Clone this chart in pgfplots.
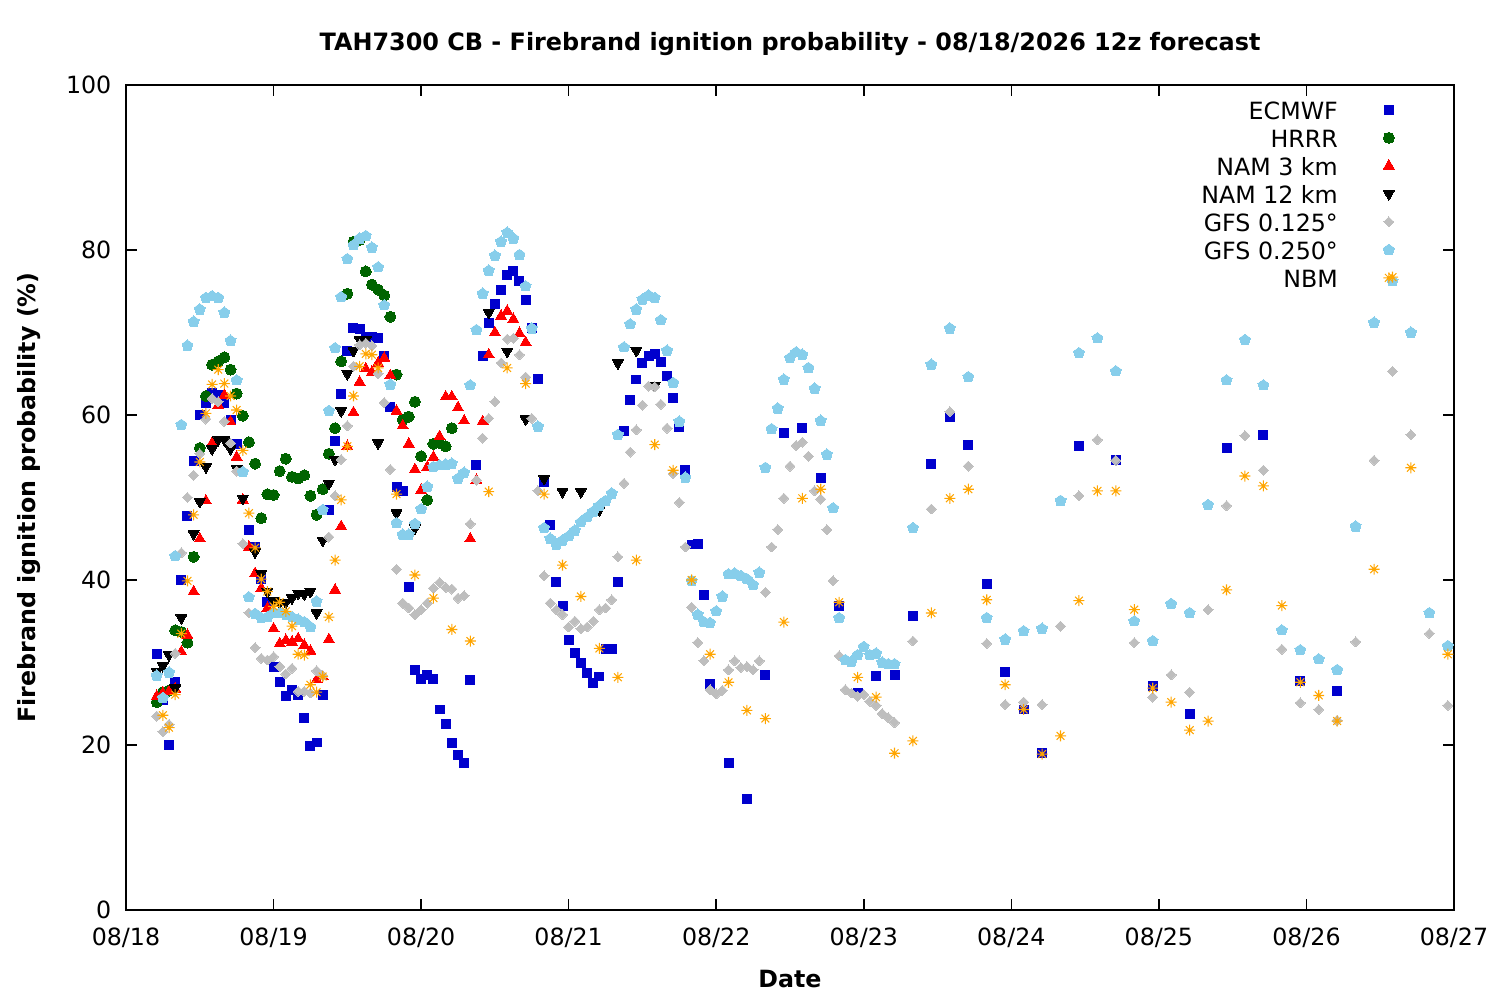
\documentclass[border=0pt]{standalone}
\usepackage{fontspec}
\setmainfont{DejaVu Sans}
\usepackage{pgfplots}
\pgfplotsset{compat=1.18}
\usetikzlibrary{plotmarks}
\definecolor{ecm}{HTML}{0000CD}
\definecolor{hrrr}{HTML}{006400}
\definecolor{namthree}{HTML}{FF0000}
\definecolor{gfsa}{HTML}{BEBEBE}
\definecolor{gfsb}{HTML}{87CEEB}
\definecolor{nbm}{HTML}{FFA500}
\pgfdeclareplotmark{ast8}{%
 \pgfpathmoveto{\pgfqpoint{-\pgfplotmarksize}{0pt}}\pgfpathlineto{\pgfqpoint{\pgfplotmarksize}{0pt}}%
 \pgfpathmoveto{\pgfqpoint{0pt}{-\pgfplotmarksize}}\pgfpathlineto{\pgfqpoint{0pt}{\pgfplotmarksize}}%
 \pgfpathmoveto{\pgfqpoint{-.7071\pgfplotmarksize}{-.7071\pgfplotmarksize}}\pgfpathlineto{\pgfqpoint{.7071\pgfplotmarksize}{.7071\pgfplotmarksize}}%
 \pgfpathmoveto{\pgfqpoint{-.7071\pgfplotmarksize}{.7071\pgfplotmarksize}}\pgfpathlineto{\pgfqpoint{.7071\pgfplotmarksize}{-.7071\pgfplotmarksize}}%
 \pgfusepathqstroke}
\newcommand{\fs}{\fontsize{6.75}{8}\selectfont}
\begin{document}
\begin{tikzpicture}
\useasboundingbox (0,0) rectangle (15cm,10cm);
\begin{axis}[
 at={(1.26cm,0.9cm)}, anchor=south west,
 scale only axis, width=13.28cm, height=8.25cm,
 xmin=0, xmax=216, ymin=0, ymax=100,
 xtick={0,24,...,216},
 xticklabels={08/18,08/19,08/20,08/21,08/22,08/23,08/24,08/25,08/26,08/27},
 ytick={0,20,...,100},
 tick align=inside, major tick length=0.11cm,
 every tick/.style={black, line width=0.45pt},
 axis line style={line width=0.45pt},
 /pgf/number format/assume math mode=true,
 ticklabel style={font=\fs},
 xticklabel style={anchor=base, inner sep=0pt, yshift=-0.36cm},
 yticklabel style={anchor=east, inner sep=0pt, xshift=-0.14cm},
 title={TAH7300 CB - Firebrand ignition probability - 08/18/2026 12z forecast},
 title style={at={(axis description cs:0.5,1)}, anchor=base, yshift=0.13cm, font=\fontsize{6.8}{8}\selectfont\bfseries},
 xlabel={Date},
 xlabel style={at={(axis description cs:0.5,0)}, anchor=base, yshift=-0.78cm, font=\fs\bfseries},
 ylabel={Firebrand ignition probability (\%)},
 ylabel style={at={(axis description cs:-0.0685,0.5)}, anchor=base, font=\fs\bfseries},
 legend style={draw=none, fill=none, at={(axis description cs:0.9556,0.981)}, anchor=north east,
   row sep=0pt, inner sep=0pt, column sep=0pt,
   nodes={inner sep=0pt, text height=0.18cm, text depth=0.10cm}, font=\fs},
 legend cell align=right, legend plot pos=right,
 legend image code/.code={\path[draw=none,fill=none] (0cm,0cm) -- (0.55cm,0cm); \draw[#1,mark repeat=1] plot coordinates {(0.51cm,0.055cm)};},
 clip=false,
]
\addplot[only marks, mark=square*, mark size=1.28pt, color=ecm, mark options={line width=0pt}] coordinates {
(5,31.0)(6,25.5)(7,20.0)(8,27.6)(9,40.0)(10,47.8)(11,54.4)(12,60.0)(13,61.5)(14,62.7)(15,62.4)(16,61.5)(17,59.4)(18,56.5)(20,46.1)(21,44.0)(22,40.1)(23,37.3)(24,29.5)(25,27.6)(26,25.9)(27,26.7)(28,26.1)(29,23.3)(30,19.9)(31,20.3)(32,26.1)(33,48.5)(34,56.8)(35,62.6)(36,67.8)(37,70.5)(38,70.4)(39,69.5)(40,69.4)(41,69.3)(42,67.2)(43,61.0)(44,51.3)(45,50.8)(46,39.1)(47,29.1)(48,28.0)(49,28.5)(50,28.0)(51,24.3)(52,22.6)(53,20.2)(54,18.8)(55,17.8)(56,27.9)(57,53.9)(58,67.1)(59,71.2)(60,73.4)(61,75.2)(62,77.0)(63,77.5)(64,76.2)(65,73.9)(66,70.5)(67,64.4)(68,51.9)(69,46.7)(70,39.7)(71,36.8)(72,32.7)(73,31.1)(74,29.9)(75,28.7)(76,27.5)(77,28.3)(78,31.6)(79,31.6)(80,39.7)(81,58.1)(82,61.8)(83,64.3)(84,66.3)(85,67.2)(86,67.4)(87,66.4)(88,64.7)(89,62.0)(90,58.5)(91,53.3)(92,44.3)(93,44.4)(94,38.2)(95,27.4)(98,17.8)(101,13.4)(104,28.5)(107,57.8)(110,58.4)(113,52.4)(116,36.8)(119,26.3)(122,28.4)(125,28.5)(128,35.6)(131,54.1)(134,59.7)(137,56.4)(140,39.5)(143,28.8)(146,24.3)(149,19.0)(155,56.2)(161,54.5)(167,27.1)(173,23.8)(179,56.0)(185,57.6)(191,27.7)(197,26.5)
};
\addlegendentry{ECMWF}
\addplot[only marks, mark=*, mark size=1.56pt, color=hrrr, mark options={line width=0pt}] coordinates {
(5,25.2)(6,26.4)(7,26.6)(8,33.9)(9,33.7)(10,32.4)(11,42.8)(12,56.0)(13,62.3)(14,66.1)(15,66.5)(16,67.0)(17,65.5)(18,62.6)(19,59.9)(20,56.7)(21,54.1)(22,47.5)(23,50.4)(24,50.3)(25,53.2)(26,54.7)(27,52.5)(28,52.3)(29,52.7)(30,50.2)(31,47.9)(32,51.0)(33,55.3)(34,58.4)(35,66.5)(36,74.7)(37,81.0)(38,81.2)(39,77.4)(40,75.8)(41,75.2)(42,74.5)(43,71.9)(44,64.9)(45,59.4)(46,59.8)(47,61.6)(48,55.0)(49,49.7)(50,56.5)(51,56.6)(52,56.2)(53,58.4)
};
\addlegendentry{HRRR}
\addplot[only marks, mark=triangle*, mark size=1.8pt, color=namthree, mark options={line width=0pt}] coordinates {
(5,25.9)(6,26.3)(7,26.5)(8,26.8)(9,31.3)(10,33.3)(11,38.6)(12,45.0)(13,49.6)(14,56.6)(15,61.2)(16,62.4)(17,59.2)(18,54.9)(19,49.7)(20,44.0)(21,40.8)(22,39.0)(23,36.6)(24,34.1)(25,32.3)(26,32.7)(27,32.5)(28,32.9)(29,32.1)(30,31.4)(31,27.9)(32,28.3)(33,32.8)(34,38.8)(35,46.5)(36,56.2)(37,60.3)(38,64.0)(39,65.6)(40,65.2)(41,66.3)(42,66.9)(43,64.8)(44,60.5)(45,58.7)(46,56.5)(47,53.4)(48,50.9)(49,53.7)(50,54.9)(51,57.4)(52,62.2)(53,62.2)(54,60.9)(55,59.3)(56,45.0)(57,52.1)(58,59.2)(59,67.3)(60,70.0)(61,72.0)(62,72.6)(63,71.6)(64,69.9)(65,68.8)
};
\addlegendentry{NAM 3 km}
\addplot[only marks, mark=triangle*, mark size=1.8pt, color=black, mark options={line width=0pt, rotate=180}] coordinates {
(5,28.9)(6,29.6)(7,30.9)(8,26.9)(9,35.4)(11,45.6)(12,49.5)(13,53.7)(14,55.9)(15,57.0)(16,57.0)(17,55.9)(18,53.5)(19,49.9)(21,43.4)(22,40.8)(23,38.6)(24,37.5)(25,37.3)(26,37.3)(27,37.8)(28,38.4)(29,38.3)(30,38.6)(31,36.0)(32,44.8)(33,51.7)(34,54.6)(35,60.5)(36,65.0)(37,67.8)(38,69.1)(39,69.1)(41,56.6)(44,48.1)(47,46.3)(59,72.4)(62,67.7)(65,59.5)(68,52.3)(71,50.7)(74,50.7)(77,48.5)(80,66.3)(83,67.8)(86,63.6)
};
\addlegendentry{NAM 12 km}
\addplot[only marks, mark=square*, mark size=1.0pt, color=gfsa, mark options={line width=0pt, rotate=45}] coordinates {
(5,23.5)(6,21.6)(7,22.5)(8,31.1)(9,43.3)(10,50.0)(11,52.7)(12,55.3)(13,59.5)(14,62.0)(15,61.6)(16,59.2)(17,56.6)(18,53.2)(19,44.4)(20,36.0)(21,31.8)(22,30.5)(23,30.3)(24,30.7)(25,29.5)(26,28.6)(27,29.3)(28,26.5)(29,26.5)(30,26.3)(31,29.0)(32,28.4)(33,45.2)(34,50.2)(35,54.6)(36,58.7)(37,65.9)(38,68.5)(39,68.7)(40,68.4)(41,65.0)(42,61.5)(43,53.4)(44,41.3)(45,37.2)(46,36.6)(47,35.8)(48,36.4)(49,37.2)(50,39.0)(51,39.7)(52,39.1)(53,38.9)(54,37.8)(55,38.1)(56,46.8)(57,52.1)(58,57.2)(59,59.6)(60,61.6)(61,66.3)(62,69.2)(63,69.3)(64,67.3)(65,64.6)(66,59.6)(67,50.8)(68,40.5)(69,37.2)(70,36.4)(71,35.8)(72,34.3)(73,35.0)(74,34.1)(75,34.3)(76,35.0)(77,36.4)(78,36.6)(79,37.6)(80,42.8)(81,51.7)(82,55.5)(83,58.2)(84,61.2)(85,63.5)(86,63.4)(87,61.3)(88,58.4)(89,52.9)(90,49.4)(91,44.0)(92,36.7)(93,32.4)(94,30.2)(95,26.7)(96,26.2)(97,26.6)(98,29.1)(99,30.2)(100,29.4)(101,29.5)(102,29.1)(103,30.2)(104,38.5)(105,44.0)(106,46.1)(107,49.9)(108,53.8)(109,56.3)(110,56.7)(111,55.0)(112,50.8)(113,49.8)(114,46.1)(115,39.9)(116,30.8)(117,26.7)(118,26.3)(119,25.9)(120,26.1)(121,25.3)(122,24.8)(123,23.8)(124,23.3)(125,22.7)(128,32.6)(131,48.6)(134,60.4)(137,53.8)(140,32.3)(143,24.9)(146,25.2)(149,24.9)(152,34.4)(155,50.2)(158,57.0)(161,54.5)(164,32.4)(167,25.8)(170,28.5)(173,26.4)(176,36.4)(179,49.0)(182,57.5)(185,53.3)(188,31.6)(191,25.1)(194,24.3)(197,23.0)(200,32.5)(203,54.5)(206,65.3)(209,57.6)(212,33.5)(215,24.8)
};
\addlegendentry{GFS 0.125°}
\addplot[only marks, mark=pentagon*, mark size=1.64pt, color=gfsb, mark options={line width=0pt}] coordinates {
(5,28.4)(6,25.7)(7,28.8)(8,42.9)(9,58.8)(10,68.4)(11,71.3)(12,72.8)(13,74.2)(14,74.4)(15,74.2)(16,72.4)(17,69.0)(18,64.2)(19,53.1)(20,37.9)(21,35.9)(22,35.4)(23,35.5)(24,36.0)(25,36.0)(26,35.8)(27,35.5)(28,35.2)(29,34.9)(30,34.3)(31,37.4)(32,48.5)(33,60.5)(34,68.1)(35,74.3)(36,78.9)(37,80.6)(38,81.4)(39,81.7)(40,80.3)(41,77.9)(42,73.3)(43,63.7)(44,46.9)(45,45.5)(46,45.5)(47,46.8)(48,48.6)(49,51.3)(50,53.7)(51,53.9)(52,54.0)(53,54.1)(54,52.3)(55,53.0)(56,63.6)(57,70.3)(58,74.7)(59,77.5)(60,79.3)(61,81.0)(62,82.1)(63,81.4)(64,79.4)(65,75.6)(66,70.5)(67,58.6)(68,46.3)(69,45.0)(70,44.3)(71,44.8)(72,45.3)(73,46.0)(74,47.0)(75,47.6)(76,48.3)(77,49.0)(78,49.6)(79,50.5)(80,57.6)(81,68.2)(82,71.0)(83,72.8)(84,74.0)(85,74.5)(86,74.2)(87,71.5)(88,67.8)(89,63.9)(90,59.2)(91,52.4)(92,39.9)(93,35.8)(94,34.9)(95,34.8)(96,36.2)(97,38.0)(98,40.7)(99,40.8)(100,40.5)(101,40.1)(102,39.4)(103,40.9)(104,53.6)(105,58.3)(106,60.8)(107,64.3)(108,66.9)(109,67.6)(110,67.3)(111,65.7)(112,63.2)(113,59.3)(114,55.2)(115,48.7)(116,35.4)(117,30.3)(118,30.1)(119,30.9)(120,31.9)(121,30.9)(122,31.1)(123,30.0)(124,29.8)(125,29.8)(128,46.3)(131,66.1)(134,70.5)(137,64.6)(140,35.4)(143,32.8)(146,33.8)(149,34.1)(152,49.6)(155,67.5)(158,69.3)(161,65.3)(164,35.0)(167,32.6)(170,37.1)(173,36.0)(176,49.1)(179,64.2)(182,69.1)(185,63.6)(188,33.9)(191,31.5)(194,30.4)(197,29.1)(200,46.5)(203,71.2)(206,76.2)(209,70.0)(212,36.0)(215,32.0)
};
\addlegendentry{GFS 0.250°}
\addplot[only marks, mark=ast8, mark size=1.56pt, color=nbm, line width=0.3pt] coordinates {
(6,23.6)(7,22.1)(8,26.1)(9,33.5)(10,39.9)(11,47.9)(12,54.3)(13,60.2)(14,63.7)(15,65.5)(16,63.8)(17,62.3)(18,60.6)(19,55.7)(20,48.1)(21,43.9)(22,40.1)(23,38.6)(24,36.8)(25,37.3)(26,36.2)(27,34.4)(28,31.0)(29,30.9)(30,27.3)(31,26.4)(32,28.3)(33,35.5)(34,42.4)(35,49.7)(36,56.2)(37,62.3)(38,65.9)(39,67.4)(40,67.3)(41,65.7)(44,50.4)(47,40.6)(50,37.8)(53,34.0)(56,32.6)(59,50.7)(62,65.7)(65,63.8)(68,50.4)(71,41.8)(74,38.0)(77,31.7)(80,28.2)(83,42.4)(86,56.4)(89,53.3)(92,40.0)(95,31.0)(98,27.6)(101,24.2)(104,23.2)(107,34.9)(110,49.9)(113,51.0)(116,37.3)(119,28.2)(122,25.8)(125,19.0)(128,20.5)(131,36.0)(134,49.9)(137,51.0)(140,37.6)(143,27.3)(146,24.3)(149,18.9)(152,21.1)(155,37.5)(158,50.8)(161,50.8)(164,36.4)(167,26.9)(170,25.2)(173,21.8)(176,22.9)(179,38.8)(182,52.6)(185,51.4)(188,36.9)(191,27.6)(194,26.0)(197,22.9)(203,41.3)(206,76.7)(209,53.6)(215,31.0)
};
\addlegendentry{NBM}
\end{axis}
\end{tikzpicture}
\end{document}
